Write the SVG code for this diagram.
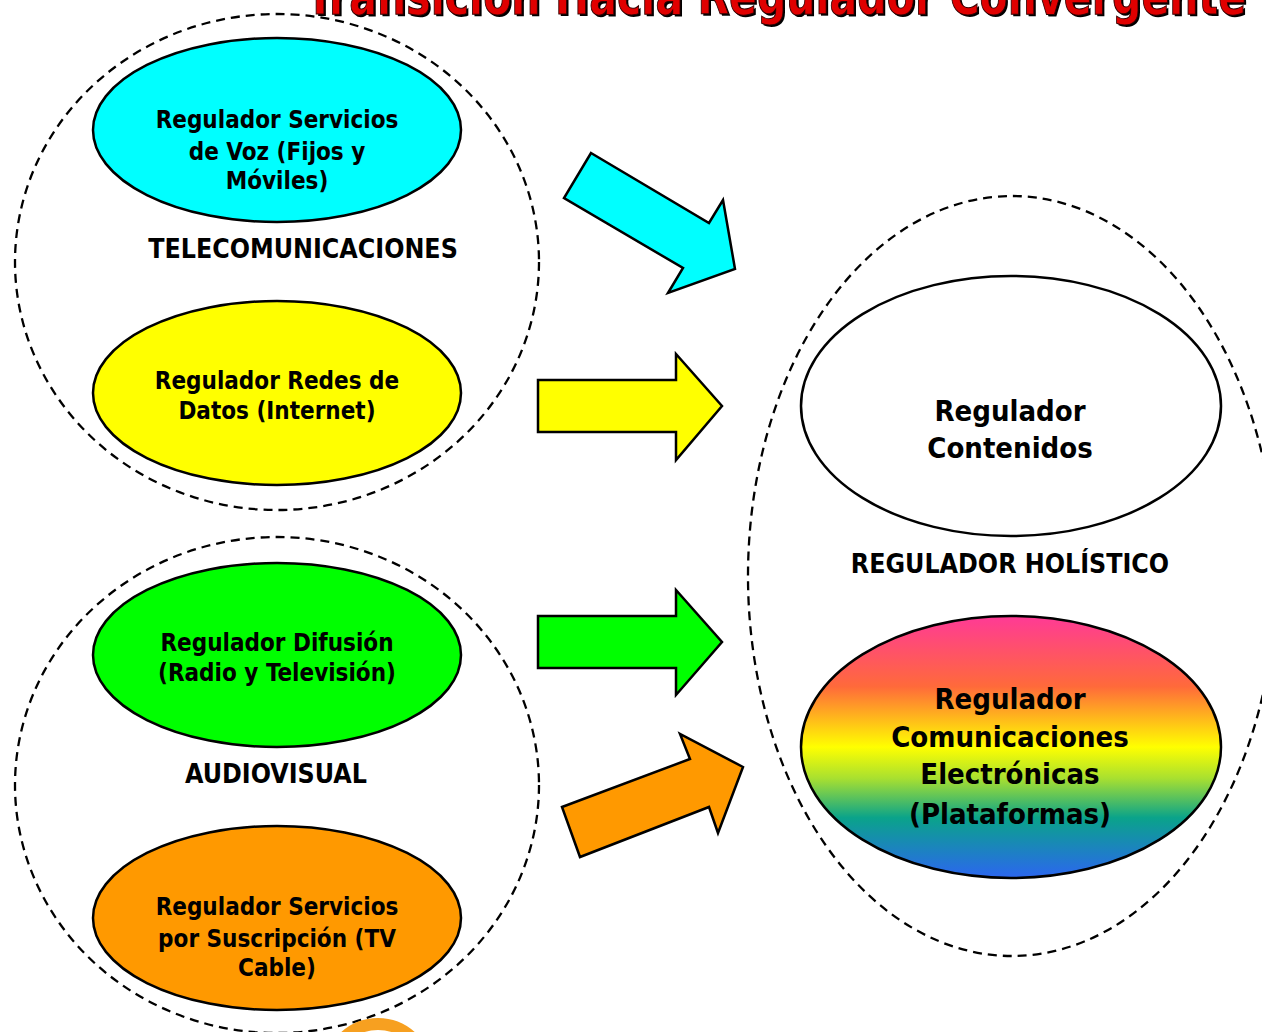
<svg xmlns="http://www.w3.org/2000/svg" width="1262" height="1032" viewBox="0 0 1262 1032">
<defs>
<linearGradient id="rainbow" x1="0" y1="0" x2="0" y2="1">
<stop offset="0" stop-color="#FF3A96"/>
<stop offset="0.27" stop-color="#FF6A3A"/>
<stop offset="0.5" stop-color="#FFFF00"/>
<stop offset="0.62" stop-color="#A8E030"/>
<stop offset="0.77" stop-color="#0AA38A"/>
<stop offset="1" stop-color="#2C66F0"/>
</linearGradient>
</defs>
<style>
.grp{fill:none;stroke:#000;stroke-width:2.3;stroke-dasharray:9 6}
.node{stroke:#000;stroke-width:2.5}
.t{font-family:"DejaVu Sans",sans-serif;font-stretch:condensed;font-weight:bold;fill:#000;text-anchor:middle}
.s{font-size:24px}
.l{font-size:29px}
.m{font-size:26.5px}
.arr{stroke:#000;stroke-width:2.5;stroke-linejoin:miter}
</style>
<rect width="1262" height="1032" fill="#fff"/>
<g id="title">
<text x="776" y="14" class="t" style="font-size:54px;fill:#000" textLength="940" lengthAdjust="spacingAndGlyphs" transform="translate(2,2)">Transición Hacia Regulador Convergente</text>
<text x="776" y="14" class="t" style="font-size:54px;fill:#E00000;stroke:#300;stroke-width:1" textLength="940" lengthAdjust="spacingAndGlyphs">Transición Hacia Regulador Convergente</text>
</g>
<g id="grp-telecom">
<ellipse cx="277" cy="262" rx="262" ry="248" class="grp"/>
<text x="303" y="258" class="t m">TELECOMUNICACIONES</text>
</g>
<g id="grp-audiovisual">
<ellipse cx="277" cy="785" rx="262" ry="248" class="grp"/>
<text x="276" y="783" class="t m">AUDIOVISUAL</text>
</g>
<g id="grp-holistico">
<ellipse cx="1012" cy="576" rx="264" ry="380" class="grp"/>
<text x="1010" y="573" class="t m">REGULADOR HOLÍSTICO</text>
</g>
<g id="node-voz">
<ellipse cx="277" cy="130" rx="184" ry="92" class="node" fill="#00FFFF"/>
<text class="t s"><tspan x="277" y="128">Regulador Servicios</tspan><tspan x="277" y="160">de Voz (Fijos y</tspan><tspan x="277" y="189">Móviles)</tspan></text>
</g>
<g id="node-datos">
<ellipse cx="277" cy="393" rx="184" ry="92" class="node" fill="#FFFF00"/>
<text class="t s"><tspan x="277" y="389">Regulador Redes de</tspan><tspan x="277" y="419">Datos (Internet)</tspan></text>
</g>
<g id="node-difusion">
<ellipse cx="277" cy="655" rx="184" ry="92" class="node" fill="#00FF00"/>
<text class="t s"><tspan x="277" y="651">Regulador Difusión</tspan><tspan x="277" y="681">(Radio y Televisión)</tspan></text>
</g>
<g id="node-suscripcion">
<ellipse cx="277" cy="918" rx="184" ry="92" class="node" fill="#FF9900"/>
<text class="t s"><tspan x="277" y="915">Regulador Servicios</tspan><tspan x="277" y="947">por Suscripción (TV</tspan><tspan x="277" y="976">Cable)</tspan></text>
</g>
<g id="node-contenidos">
<ellipse cx="1011" cy="406" rx="210" ry="130" class="node" fill="#FFFFFF"/>
<text class="t l"><tspan x="1010" y="421">Regulador</tspan><tspan x="1010" y="458">Contenidos</tspan></text>
</g>
<g id="node-plataformas">
<ellipse cx="1011" cy="747" rx="210" ry="131" class="node" fill="url(#rainbow)"/>
<text class="t l"><tspan x="1010" y="709">Regulador</tspan><tspan x="1010" y="747">Comunicaciones</tspan><tspan x="1010" y="784">Electrónicas</tspan><tspan x="1010" y="824">(Plataformas)</tspan></text>
</g>
<g id="connectors">
<polygon class="arr" fill="#00FFFF" points="591,153 709,223 723,200 735,269 668,293 683,268 564,198"/>
<polygon class="arr" fill="#FFFF00" points="538,380 676,380 676,354 722,406 676,460 676,432 538,432"/>
<polygon class="arr" fill="#00FF00" points="538,616 676,616 676,590 722,642 676,695 676,668 538,668"/>
<polygon class="arr" fill="#FF9900" points="562,807 690,759 680,734 743,767 718,833 709,807 580,857"/>
</g>
<g id="deco">
<circle cx="378" cy="1073" r="49" fill="none" stroke="#F7A020" stroke-width="12"/>
</g>
</svg>
